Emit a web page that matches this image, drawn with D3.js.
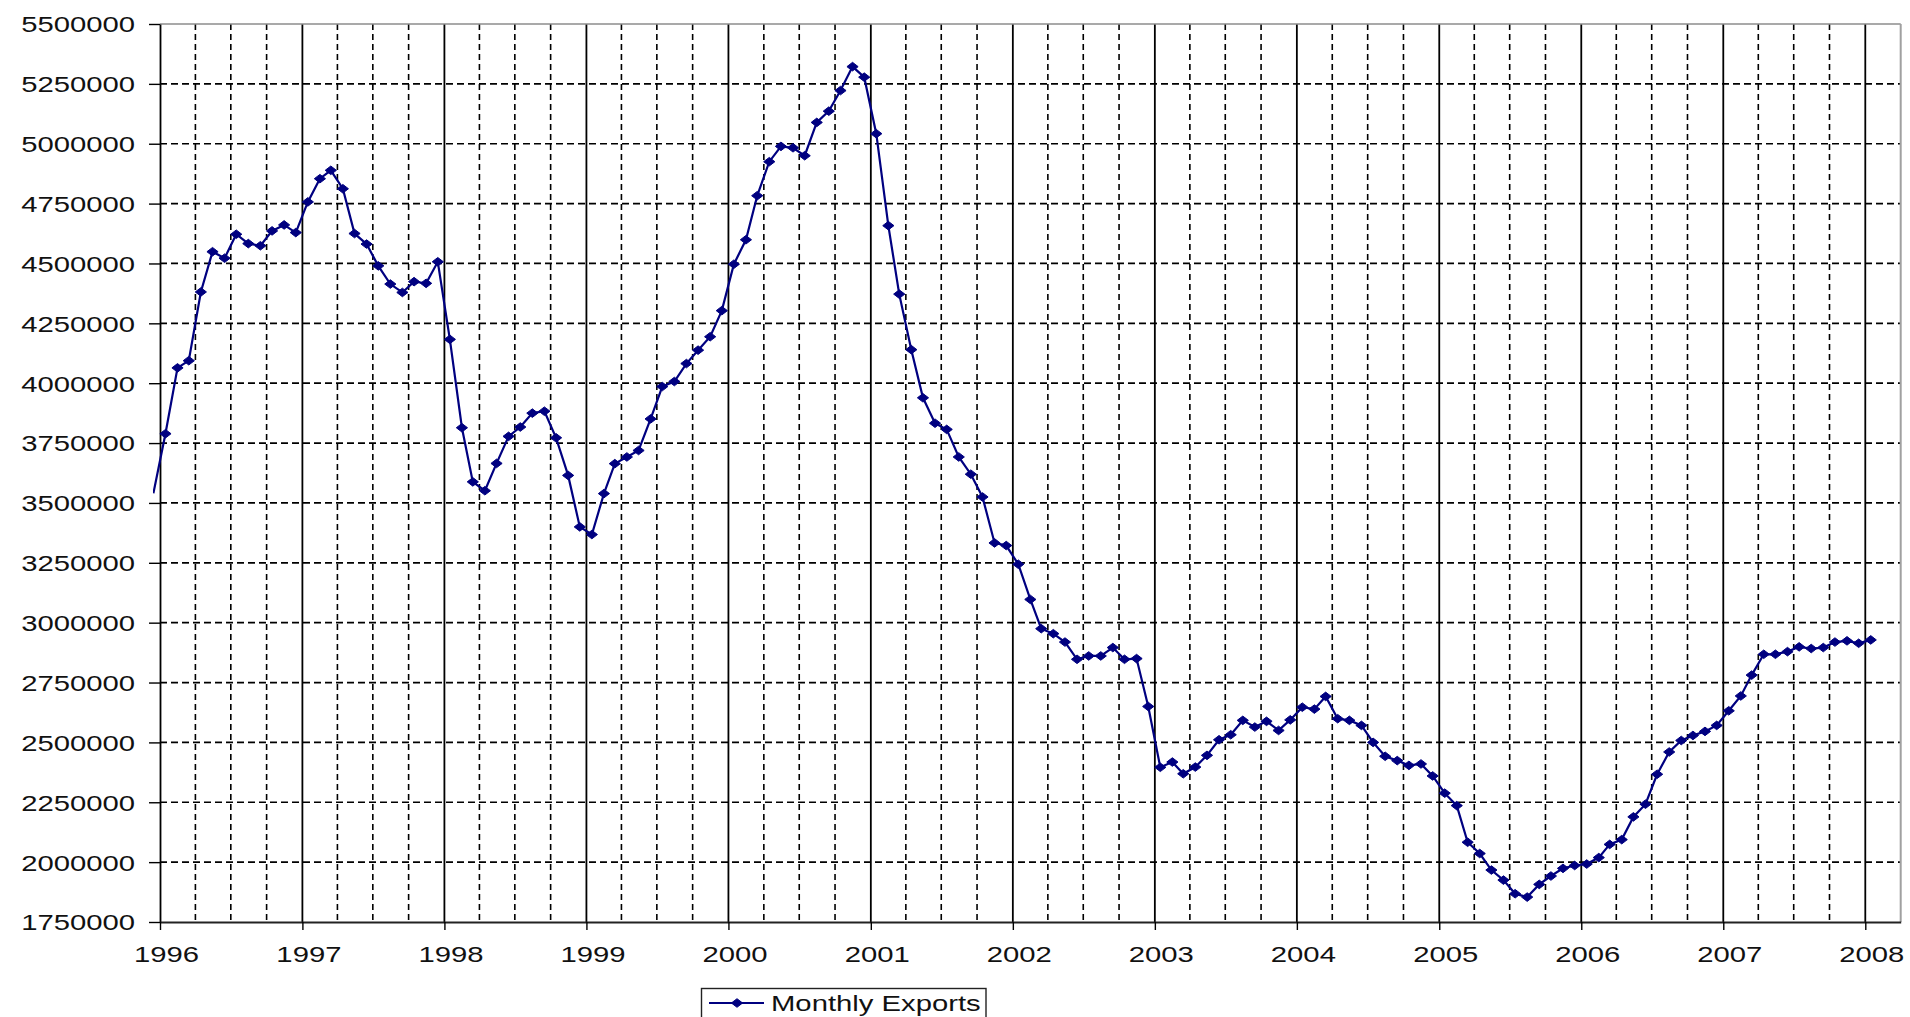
<!DOCTYPE html>
<html>
<head>
<meta charset="utf-8">
<script src="https://cdn.jsdelivr.net/npm/d3@7"></script>
<style>
  html, body { margin: 0; padding: 0; background: #fff; }
  svg { display: block; }
  text { font-family: "Liberation Sans", Arial, sans-serif; fill: #111; }
</style>
</head>
<body>
<svg id="chart" width="1910" height="1017"></svg>
<script>
// ---------------- data ----------------
const seriesName = "Monthly Exports";
const firstYear = 1996;
// value for December 1995 (line enters from the left edge, no marker shown)
const leadInValue = 3540000;
const monthlyExports = [
  // 1996
  3789000, 4064000, 4094000, 4381000, 4549000, 4522000, 4622000, 4583000, 4574000, 4636000, 4661000, 4629000,
  // 1997
  4757000, 4854000, 4889000, 4812000, 4625000, 4581000, 4490000, 4414000, 4379000, 4424000, 4417000, 4507000,
  // 1998
  4183000, 3814000, 3588000, 3551000, 3665000, 3778000, 3817000, 3875000, 3883000, 3772000, 3615000, 3400000,
  // 1999
  3368000, 3539000, 3664000, 3692000, 3719000, 3851000, 3986000, 4007000, 4082000, 4138000, 4194000, 4303000,
  // 2000
  4497000, 4599000, 4783000, 4925000, 4989000, 4983000, 4950000, 5089000, 5136000, 5222000, 5322000, 5278000,
  // 2001
  5042000, 4658000, 4372000, 4140000, 3939000, 3833000, 3807000, 3692000, 3620000, 3525000, 3333000, 3322000,
  // 2002
  3244000, 3097000, 2975000, 2954000, 2919000, 2847000, 2861000, 2861000, 2896000, 2847000, 2850000, 2650000,
  // 2003
  2396000, 2418000, 2369000, 2397000, 2446000, 2511000, 2532000, 2592000, 2564000, 2588000, 2550000, 2594000,
  // 2004
  2647000, 2639000, 2692000, 2599000, 2592000, 2571000, 2500000, 2442000, 2424000, 2404000, 2410000, 2360000,
  // 2005
  2288000, 2236000, 2083000, 2036000, 1967000, 1925000, 1868000, 1854000, 1907000, 1942000, 1974000, 1986000,
  // 2006
  1992000, 2019000, 2074000, 2094000, 2189000, 2242000, 2367000, 2460000, 2508000, 2529000, 2546000, 2571000,
  // 2007
  2632000, 2694000, 2781000, 2868000, 2868000, 2879000, 2899000, 2892000, 2896000, 2919000, 2924000, 2914000,
  // 2008
  2928000
];
const yearLabels = ["1996","1997","1998","1999","2000","2001","2002","2003","2004","2005","2006","2007","2008"];
const yTickValues = [1750000, 2000000, 2250000, 2500000, 2750000, 3000000, 3250000, 3500000,
                     3750000, 4000000, 4250000, 4500000, 4750000, 5000000, 5250000, 5500000];

// ---------------- layout ----------------
const plot = { left: 160, top: 24, right: 1900.7, bottom: 922 };
const textStretch = 1.33;   // the reference's text is horizontally stretched
const fontSize = 22;

const svg = d3.select("#chart");

const pointDates = monthlyExports.map((v, i) => new Date(firstYear, i, 15));
const points = monthlyExports.map((v, i) => ({ date: pointDates[i], value: v }));
const leadIn = { date: new Date(firstYear - 1, 11, 15), value: leadInValue };

const x = d3.scaleTime()
  .domain([new Date(firstYear, 0, 1), new Date(+yearLabels[yearLabels.length - 1], 3, 1)])
  .range([plot.left, plot.right]);
const y = d3.scaleLinear()
  .domain([yTickValues[0], yTickValues[yTickValues.length - 1]])
  .range([plot.bottom, plot.top]);

// ---------------- grid ----------------
const grid = svg.append("g");
grid.selectAll("line.h")
  .data(yTickValues.slice(1, -1))
  .join("line")
  .attr("x1", plot.left).attr("x2", plot.right)
  .attr("y1", d => y(d)).attr("y2", d => y(d))
  .attr("stroke", "#000").attr("stroke-width", 1.7)
  .attr("stroke-dasharray", "7,4");

const quarterDates = d3.timeMonth.every(3).range(x.domain()[0], x.domain()[1]).slice(1);
grid.selectAll("line.v")
  .data(quarterDates)
  .join("line")
  .attr("x1", d => x(d)).attr("x2", d => x(d))
  .attr("y1", plot.top).attr("y2", plot.bottom)
  .attr("stroke", "#000")
  .attr("stroke-width", d => d.getMonth() === 0 ? 1.8 : 1.6)
  .attr("stroke-dasharray", d => d.getMonth() === 0 ? null : "6,4");

// plot border top & right (gray)
svg.append("line")
  .attr("x1", plot.left).attr("x2", plot.right)
  .attr("y1", plot.top).attr("y2", plot.top)
  .attr("stroke", "#8c8c8c").attr("stroke-width", 1.5);
svg.append("line")
  .attr("x1", plot.right).attr("x2", plot.right)
  .attr("y1", plot.top).attr("y2", plot.bottom)
  .attr("stroke", "#a0a0a0").attr("stroke-width", 2);

// ---------------- axes ----------------
const yAxis = svg.append("g")
  .attr("transform", `translate(${plot.left},0)`)
  .call(d3.axisLeft(y).tickValues(yTickValues).tickFormat(d3.format("d")).tickSize(11).tickSizeOuter(0));
yAxis.select(".domain").attr("stroke", "#000").attr("stroke-width", 1.8);
yAxis.selectAll(".tick line").attr("stroke", "#000").attr("stroke-width", 1.4);
yAxis.selectAll(".tick text")
  .attr("x", 0)
  .attr("dy", "0.36em")
  .attr("transform", `translate(-25,0) scale(${textStretch},1)`)
  .attr("font-size", fontSize)
  .attr("font-family", "Liberation Sans, Arial, sans-serif")
  .attr("fill", "#111");

const yearDates = yearLabels.map(s => new Date(+s, 0, 1));
const xAxis = svg.append("g")
  .attr("transform", `translate(0,${plot.bottom})`)
  .call(d3.axisBottom(x).tickValues(yearDates).tickFormat((d, i) => yearLabels[i]).tickSize(8).tickSizeOuter(0));
xAxis.select(".domain").attr("stroke", "#222").attr("stroke-width", 1.8);
xAxis.selectAll(".tick line").attr("stroke", "#000").attr("stroke-width", 1.4);
xAxis.selectAll(".tick text")
  .attr("y", 0)
  .attr("dy", 0)
  .attr("transform", `translate(6,40) scale(${textStretch},1)`)
  .attr("font-size", fontSize)
  .attr("font-family", "Liberation Sans, Arial, sans-serif")
  .attr("fill", "#111");

// ---------------- series ----------------
const navy = "#000080";
svg.append("clipPath").attr("id", "lineClip")
  .append("rect")
  .attr("x", plot.left - 7).attr("y", 0)
  .attr("width", plot.right - plot.left + 7).attr("height", 1017);

const line = d3.line().x(d => x(d.date)).y(d => y(d.value));
svg.append("path")
  .datum([leadIn, ...points])
  .attr("clip-path", "url(#lineClip)")
  .attr("fill", "none")
  .attr("stroke", navy)
  .attr("stroke-width", 2.2)
  .attr("d", line);

const diamond = "M0,-4.3L5.6,0L0,4.3L-5.6,0Z";
svg.append("g").selectAll("path")
  .data(points)
  .join("path")
  .attr("transform", d => `translate(${x(d.date)},${y(d.value)})`)
  .attr("d", diamond)
  .attr("fill", navy)
  .attr("stroke", navy)
  .attr("stroke-width", 1);

// ---------------- legend ----------------
const legend = svg.append("g");
legend.append("rect")
  .attr("x", 701.5).attr("y", 988.5)
  .attr("width", 284.5).attr("height", 40)
  .attr("fill", "#fff").attr("stroke", "#222").attr("stroke-width", 1.4);
legend.append("line")
  .attr("x1", 709).attr("x2", 764).attr("y1", 1003).attr("y2", 1003)
  .attr("stroke", navy).attr("stroke-width", 2);
legend.append("path")
  .attr("transform", "translate(737,1003)")
  .attr("d", diamond).attr("fill", navy).attr("stroke", navy).attr("stroke-width", 1);
legend.append("text")
  .attr("transform", `translate(771,1011) scale(${textStretch},1)`)
  .attr("font-size", fontSize)
  .text(seriesName);
</script>
</body>
</html>
